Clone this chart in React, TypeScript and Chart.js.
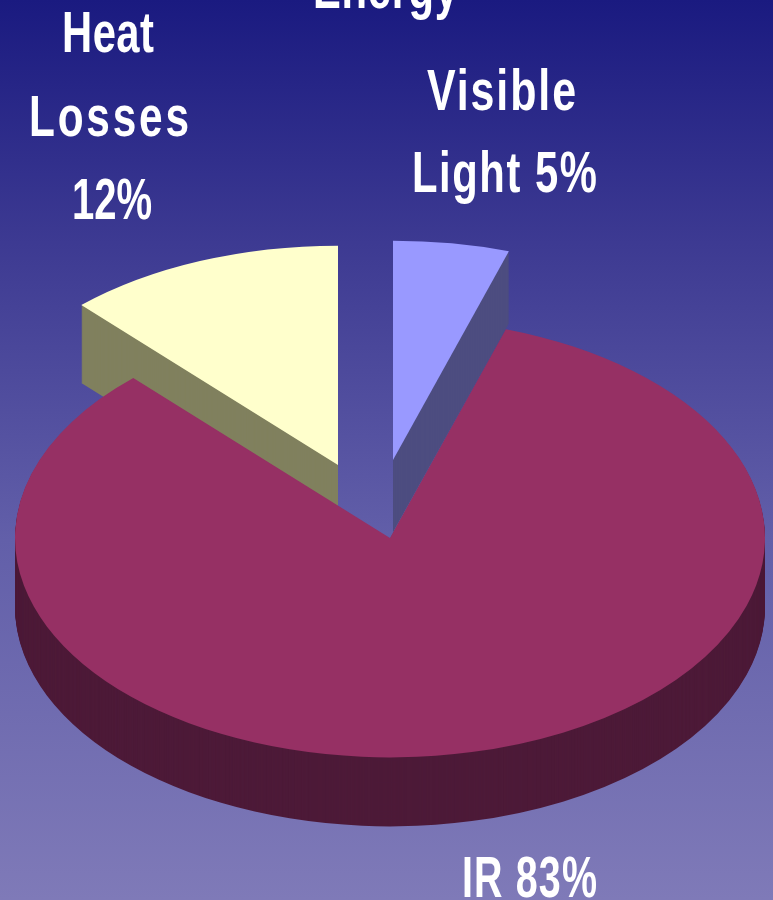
import React, { useEffect, useRef } from "react";
import { Chart, registerables } from "chart.js";

Chart.register(...registerables);

// Share of the input energy going to each output, drawn clockwise from the Heat Losses wedge.
const categories = ["Heat Losses", "Visible Light", "IR"];
const shares = [12, 5, 83];
const topColors = ["#ffffcc", "#9999ff", "#963064"];
const wallColors = ["#80805e", "#4d4d80", "#4d1a38"];

// Wedge pull-out, in pixels, and the thickness of each extruded wall.
const pullX = [-52, 3, 0];
const pullY = [-73, -78, 0];
const wallDepth = [78, 72, 69];

// Foreshortening applied to the round pie to lay it on its side.
const TILT = 0.585;

const textLines = ["Energy", "Heat", "Losses", "12%", "Visible", "Light 5%", "IR 83%"];
const textLeft = [313, 62, 29, 72, 427, 412, 462];
const textBaseline = [8, 52, 136, 219, 110, 192, 897];
const textWidth = [145, 92, 160, 80, 149, 185, 135];
// Glyphs are condensed per line; whatever width is left goes between the letters.
const textSqueeze = [0.72, 0.72, 0.73, 0.69, 0.74, 0.72, 0.68];
const TEXT_FONT = 'bold 58px "Liberation Sans", Arial, sans-serif';

const backdrop = {
  id: "backdrop",
  beforeDraw(chart: any) {
    const { ctx, width, height } = chart;
    const fill = ctx.createLinearGradient(0, 0, 0, height);
    fill.addColorStop(0, "#1a1a80");
    fill.addColorStop(0.27, "#3d3a92");
    fill.addColorStop(0.6, "#625fa9");
    fill.addColorStop(1, "#7f7ab8");
    ctx.save();
    ctx.fillStyle = fill;
    ctx.fillRect(0, 0, width, height);
    ctx.restore();
  },
};

// Paints every arc flattened, with its wall stacked underneath it.
const tiltedPie = {
  id: "tiltedPie",
  beforeDatasetDraw(chart: any, args: any) {
    const { ctx } = chart;
    const arcs = chart.getDatasetMeta(args.index).data;
    const paint = (arc: any, dx: number, dy: number, color: string) => {
      const resolved = arc.options;
      arc.options = { ...resolved, backgroundColor: color };
      ctx.save();
      ctx.translate(arc.x + dx, arc.y + dy);
      ctx.scale(1, TILT);
      ctx.translate(-arc.x, -arc.y);
      arc.draw(ctx);
      ctx.restore();
      arc.options = resolved;
    };
    arcs.forEach((arc: any, i: number) => {
      for (let d = wallDepth[i]; d > 0; d--) {
        paint(arc, pullX[i], pullY[i] + d, wallColors[i]);
      }
      paint(arc, pullX[i], pullY[i], topColors[i]);
    });
    return false;
  },
};

const captions = {
  id: "captions",
  afterDraw(chart: any) {
    const { ctx } = chart;
    ctx.save();
    ctx.font = TEXT_FONT;
    ctx.fillStyle = "#ffffff";
    ctx.textAlign = "left";
    ctx.textBaseline = "alphabetic";
    textLines.forEach((line, i) => {
      ctx.save();
      ctx.letterSpacing = "0px";
      const natural = ctx.measureText(line).width;
      const gaps = Math.max(line.length - 1, 1);
      const spare = textWidth[i] / textSqueeze[i] - natural;
      ctx.letterSpacing = `${spare / gaps}px`;
      ctx.translate(textLeft[i], textBaseline[i]);
      ctx.scale(textSqueeze[i], 1);
      ctx.fillText(line, 0, 0);
      ctx.restore();
    });
    ctx.restore();
  },
};

export default function App() {
  const canvasRef = useRef<HTMLCanvasElement>(null);

  useEffect(() => {
    const chart = new Chart(canvasRef.current!, {
      type: "pie",
      data: {
        labels: categories,
        datasets: [
          {
            data: shares,
            backgroundColor: topColors,
            borderWidth: 0,
            clip: false,
          } as any,
        ],
      },
      options: {
        responsive: false,
        animation: false,
        rotation: -43.2,
        radius: 375,
        layout: { padding: { top: 176, left: 7 } },
        plugins: {
          legend: { display: false },
          tooltip: { enabled: false },
          title: { display: false },
        },
      } as any,
      plugins: [backdrop, tiltedPie, captions],
    });
    return () => chart.destroy();
  }, []);

  return (
    <div style={{ position: "fixed", left: 0, top: 0 }}>
      <canvas ref={canvasRef} width={773} height={900} style={{ display: "block" }} />
    </div>
  );
}
